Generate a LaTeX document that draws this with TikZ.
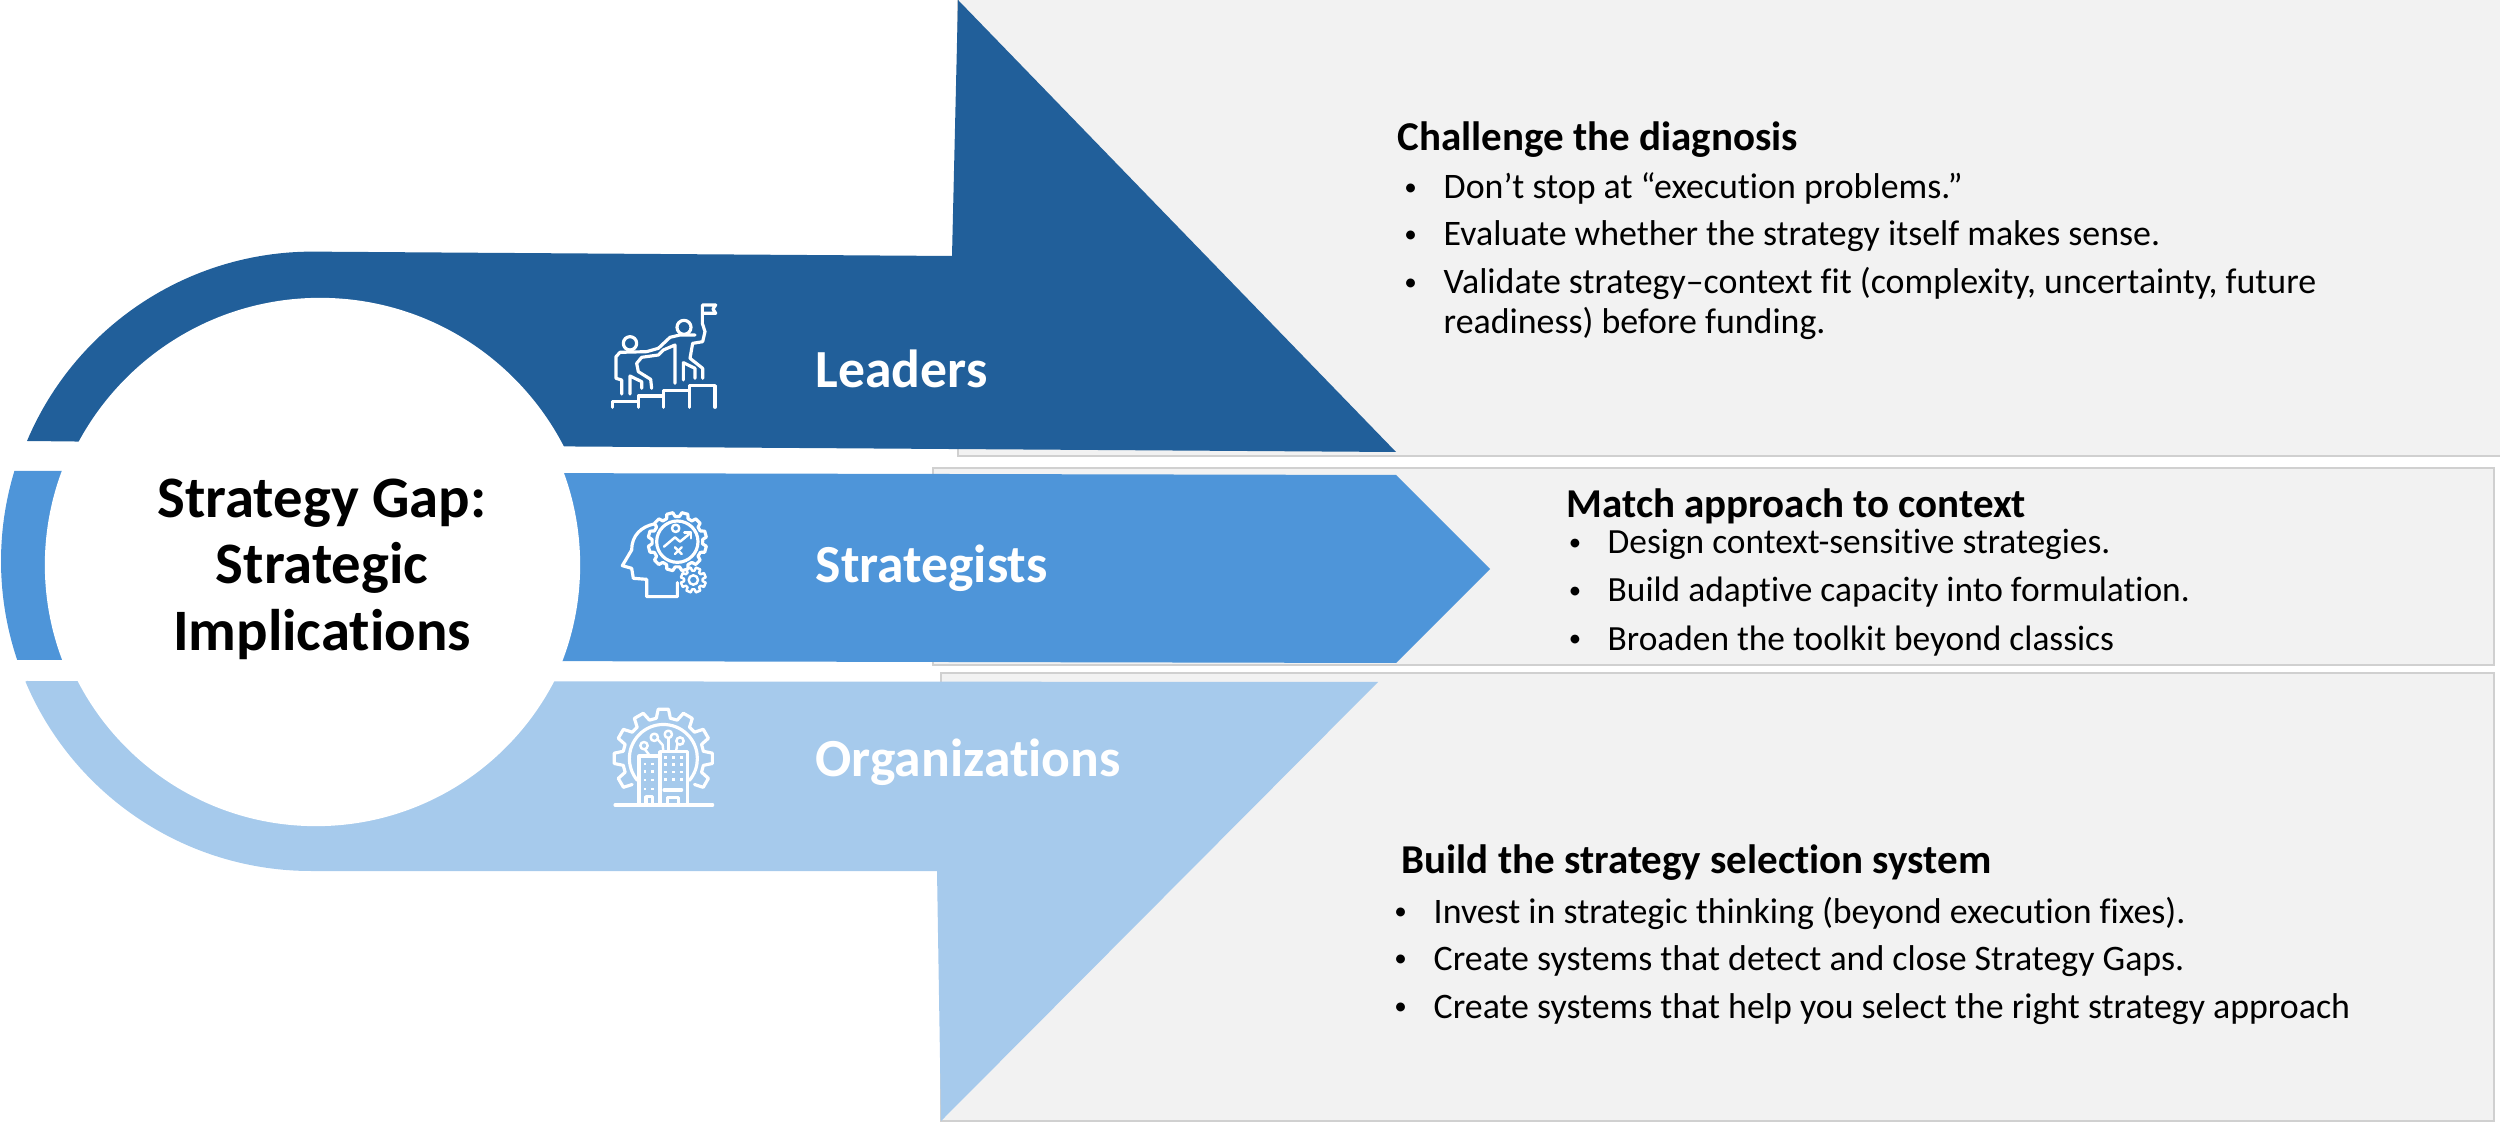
\documentclass[tikz,border=0pt]{standalone}
\usepackage{fontspec}
\setmainfont{Carlito}[Ligatures=NoCommon]
\newcommand{\bul}{\llap{\raisebox{0.09em}{\scalebox{0.7}{\textbullet}}\hspace{0.75em}}}
\definecolor{leadblue}{HTML}{215F9A}
\definecolor{stratblue}{HTML}{4E95D9}
\definecolor{orgblue}{HTML}{A6CAEC}
\definecolor{panelgray}{HTML}{F2F2F2}
\definecolor{panelline}{HTML}{D0D0D0}

\begin{document}
\begin{tikzpicture}[
  x=0.01cm, y=-0.01cm,
  panel/.style={draw=panelline, line width=0.45pt, fill=panelgray},
  hubcircle/.style={circle, fill=white, inner sep=0pt},
  hubtext/.style={anchor=base, inner sep=0pt, font=\fontsize{16.7}{16.7}\selectfont\bfseries},
  band/.style={anchor=base west, inner sep=0pt, text=white, font=\fontsize{15.25}{15.25}\selectfont\bfseries},
  head/.style={anchor=base west, inner sep=0pt, font=\fontsize{11.66}{11.66}\selectfont\bfseries},
  item/.style={anchor=base west, inner sep=0pt, font=\fontsize{10.2}{10.2}\selectfont},
  icon/.style={draw=white, line width=0.9pt, line join=round, line cap=round},
  thin icon/.style={icon, line width=0.7pt}
]
\useasboundingbox (0,0) rectangle (2500,1125);

% panels
\draw[panel] (958,-5) rectangle (2505,456);
\draw[panel] (933,468) rectangle (2494,665);
\draw[panel] (941,673) rectangle (2494,1121);

% arrows
\fill[leadblue] (27,441) arc[start angle=202.9, end angle=270, radius=310] -- (952,256) -- (958,0) -- (1396,452) -- (500,446) -- cycle;
\fill[stratblue] (14.4,471) arc[start angle=196.9, end angle=161.4, radius=310] -- (100,660) -- (100,471) -- cycle;
\fill[stratblue] (500,473) -- (1396,475) -- (1490,569) -- (1396,663) -- (500,661) -- cycle;
\fill[orgblue] (27,681) -- (1378,682) -- (941,1121) -- (937,871) -- (311,871) arc[start angle=90, end angle=157.1, radius=310] -- cycle;

% centre, one cut per arrow
\begin{scope}
\clip (0,0) rectangle (700,460);
\node[hubcircle, minimum size=5.48cm] (hubtop) at (320,572) {};
\end{scope}
\begin{scope}
\clip (0,460) rectangle (700,670);
\node[hubcircle, minimum size=5.35cm] (hubmid) at (312.5,565) {};
\end{scope}
\begin{scope}
\clip (0,670) rectangle (700,900);
\node[hubcircle, minimum size=5.36cm] (hubbot) at (316,558) {};
\end{scope}
\node[hubtext] (hub1) at (322,518) {Strategy Gap:};
\node[hubtext] (hub2) at (322,584) {Strategic};
\node[hubtext] (hub3) at (322,650) {Implications};

% band labels
\node[band] (leaders) at (815,388) {Leaders};
\node[band] (strategists) at (815,583) {Strategists};
\node[band] (organizations) at (815,777) {Organizations};

% leaders icon
\begin{scope}[shift={(580,300)}, scale=1/3]
\draw[icon] (150,130) circle (20);
\draw[icon] (312,82) circle (21);
\draw[icon] (367,70) -- (367,15) -- (407,15) -- (399,27) -- (407,40) -- (367,40);
\draw[icon] (367,70) -- (375,95) -- (368,125) -- (338,130) -- (330,175) -- (368,205) -- (368,235);
\draw[icon] (345,235) -- (345,205) -- (310,188) -- (310,240);
\draw[icon] (285,250) -- (285,135) -- (250,150) -- (235,165) -- (185,172) -- (170,190) -- (175,215) -- (212,238) -- (215,265);
\draw[icon] (185,265) -- (185,245) -- (150,228) -- (150,282);
\draw[icon] (125,282) -- (125,240) -- (108,235) -- (108,170) -- (120,157) -- (200,155) -- (235,145) -- (270,112) -- (300,105) -- (345,105);
\draw[icon] (98,322) -- (98,305) -- (175,305) -- (175,322);
\draw[icon] (175,305) -- (175,288) -- (250,288) -- (250,322);
\draw[icon] (250,288) -- (250,272) -- (328,272) -- (328,322);
\draw[icon] (328,272) -- (328,257) -- (405,257) -- (405,322);
\end{scope}

% strategists icon
\begin{scope}[shift={(590,500)}, scale=1/3]
\draw[icon] (262,248) -- (262,290) -- (170,290) -- (170,238) -- (130,235) -- (125,205) -- (97,197) -- (125,150) .. controls (125,105) and (155,80) .. (192,72);
\draw[icon] (262,125) circle (62);
\begin{scope}[shift={(262,125)}]
\draw[icon] (0:76) \foreach \a in {0,30,...,330} {-- (\a+5:76) -- (\a+9:88) -- (\a+21:88) -- (\a+25:76)} -- cycle;
\end{scope}
\begin{scope}[shift={(310,240)}]
\draw[thin icon] (0:28) \foreach \a in {0,45,...,315} {-- (\a+7:28) -- (\a+12:38) -- (\a+33:38) -- (\a+38:28)} -- cycle;
\draw[thin icon] (0,0) circle (14);
\end{scope}
\draw[thin icon] (257,85) circle (11);
\draw[thin icon] (222,140) -- (255,112) -- (270,125) -- (303,98);
\draw[thin icon] (283,97) -- (303,97) -- (303,115);
\draw[thin icon] (255,142) -- (275,162);
\draw[thin icon] (275,142) -- (255,162);
\end{scope}

% organizations icon
\begin{scope}[shift={(590,695)}, scale=1/3]
\draw[icon] (75,330) -- (368,330);
\draw[icon] (147,325) -- (147,183) -- (210,183);
\draw[icon] (210,325) -- (210,170) -- (292,170) -- (292,325);
\draw[icon] (168,325) -- (168,305) -- (188,305) -- (188,325);
\draw[icon] (232,325) -- (232,307) -- (265,307) -- (265,325);
\draw[icon] (222,285) -- (275,285);
\draw[icon] (142,256) arc[start angle=140, end angle=400, radius=102];
\begin{scope}[shift={(220,190)}]
\draw[icon] (140:122) \foreach \a in {135,165,...,375} {-- (\a+5:122) -- (\a+9:148) -- (\a+21:148) -- (\a+25:122)};
\end{scope}
\draw[thin icon] (162,152) circle (11);
\draw[thin icon] (193,127) circle (11);
\draw[thin icon] (235,118) circle (11);
\draw[thin icon] (270,138) circle (11);
\draw[thin icon] (165,163) -- (180,183);
\draw[thin icon] (203,133) -- (218,150) -- (220,170);
\draw[thin icon] (235,130) -- (235,170);
\draw[thin icon] (262,147) -- (258,170);
\foreach \wx in {165,187} \foreach \wy in {207,230,255,282} {\fill[white] (\wx-4,\wy-4) rectangle ++(8,8);}
\foreach \wx in {227,251,275} \foreach \wy in {187,209,231,253} {\fill[white] (\wx-4,\wy-4) rectangle ++(8,8);}
\end{scope}

% leaders text
\node[head] (lhead) at (1397,151) {Challenge the diagnosis};
\node[item] (l1) at (1443,199) {\bul Don’t stop at “execution problems.”};
\node[item] (l2) at (1443,246) {\bul Evaluate whether the strategy itself makes sense.};
\node[item] (l3) at (1443,294) {\bul Validate strategy–context fit (complexity, uncertainty, future};
\node[item] (l4) at (1443,334) {readiness) before funding.};

% strategists text
\node[head] (shead) at (1566,518) {Match approach to context};
\node[item, font=\fontsize{10.06}{10.06}\selectfont] (s1) at (1607,554) {\bul Design context-sensitive strategies.};
\node[item, font=\fontsize{10.06}{10.06}\selectfont] (s2) at (1607,602) {\bul Build adaptive capacity into formulation.};
\node[item, font=\fontsize{10.06}{10.06}\selectfont] (s3) at (1607,650) {\bul Broaden the toolkit beyond classics};

% organizations text
\node[head] (ohead) at (1401,873) {Build the strategy selection system};
\node[item] (o1) at (1433,923) {\bul Invest in strategic thinking (beyond execution fixes).};
\node[item] (o2) at (1433,970) {\bul Create systems that detect and close Strategy Gaps.};
\node[item] (o3) at (1433,1018) {\bul Create systems that help you select the right strategy approach};
\end{tikzpicture}
\end{document}
